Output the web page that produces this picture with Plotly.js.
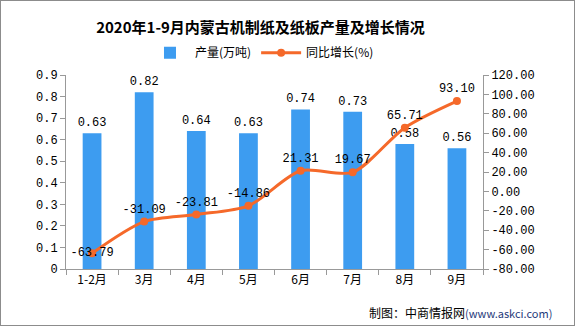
<!DOCTYPE html>
<html><head><meta charset="utf-8">
<script src="https://cdn.plot.ly/plotly-3.0.1.min.js"></script>
<style>
html,body{margin:0;padding:0;background:#fff;}
#wrap{position:relative;width:575px;height:326px;}
#chart{width:575px;height:326px;}
#frame{position:absolute;left:0;top:0;width:573px;height:324px;border:1px solid #8c8c8c;pointer-events:none;}
</style></head>
<body><div id="wrap"><div id="chart"></div><div id="frame"></div></div>
<script>
const categories = ['1-2月','3月','4月','5月','6月','7月','8月','9月'];
const output = [0.63,0.82,0.64,0.63,0.74,0.73,0.58,0.56];
const growth = [-63.79,-31.09,-23.81,-14.86,21.31,19.67,65.71,93.10];
const leftTicks = [0,0.1,0.2,0.3,0.4,0.5,0.6,0.7,0.8,0.9];
const rightTicks = [-80,-60,-40,-20,0,20,40,60,80,100,120];

const numFont = {family:'Liberation Mono, DejaVu Sans Mono, monospace', size:12, color:'#000'};

const traces = [
  {type:'bar', name:'产量(万吨)', x:categories, y:output, yaxis:'y',
   marker:{color:'#3d9cf0'}, width:0.36,
   text:output.map(v=>v.toFixed(2)), textposition:'outside', cliponaxis:false,
   constraintext:'none', textfont:numFont},
  {type:'scatter', name:'同比增长(%)', x:categories, y:growth, yaxis:'y2',
   mode:'lines+markers+text', line:{color:'#f5692a', width:3, shape:'spline', smoothing:0.8},
   marker:{color:'#f5692a', size:8},
   text:growth.map(v=>v.toFixed(2)),
   textposition:growth.map((v,i)=>i===0?'middle center':'top center'),
   cliponaxis:false, textfont:numFont}
];

const layout = {
  width:575, height:326,
  margin:{l:66, r:92, t:75, b:57},
  paper_bgcolor:'#fff', plot_bgcolor:'#fff',
  title:{text:'<b>2020年1-9月内蒙古机制纸及纸板产量及增长情况</b>', x:0.453, xanchor:'center', y:0.915, yanchor:'middle',
    font:{family:'Noto Sans CJK SC', size:15, color:'#000'}},
  showlegend:true,
  legend:{orientation:'h', x:0.47, xanchor:'center', y:1.115, yanchor:'middle',
    font:{family:'Noto Sans CJK SC', size:12, color:'#000'}, itemwidth:40, tracegroupgap:0},
  xaxis:{type:'category', showline:true, linecolor:'#999', linewidth:1,
    ticks:'outside', tickcolor:'#999', ticklen:5, tickson:'boundaries',
    tickfont:{family:'Noto Sans CJK SC', size:12, color:'#000'}, showgrid:false, zeroline:false},
  yaxis:{range:[0,0.9], tickvals:leftTicks, ticktext:leftTicks.map(v=>String(v)),
    showline:true, linecolor:'#999', linewidth:1, ticks:'outside', tickcolor:'#999', ticklen:5,
    tickfont:numFont, showgrid:false, zeroline:false},
  yaxis2:{range:[-80,120], overlaying:'y', side:'right', tickvals:rightTicks,
    ticktext:rightTicks.map(v=>v.toFixed(2)),
    showline:true, linecolor:'#999', linewidth:1, ticks:'outside', tickcolor:'#999', ticklen:5,
    tickfont:numFont, showgrid:false, zeroline:false},
  annotations:[{text:'制图：中商情报网<span style="font-size:11px;color:#1f3a7a">(www.askci.com)</span>', xref:'paper', yref:'paper',
    x:1.17, xanchor:'right', y:-0.225, yanchor:'middle', showarrow:false,
    font:{family:'Noto Sans CJK SC', size:12, color:'#000'}}]
};
Plotly.newPlot('chart', traces, layout, {displayModeBar:false, staticPlot:true});
</script></body></html>
